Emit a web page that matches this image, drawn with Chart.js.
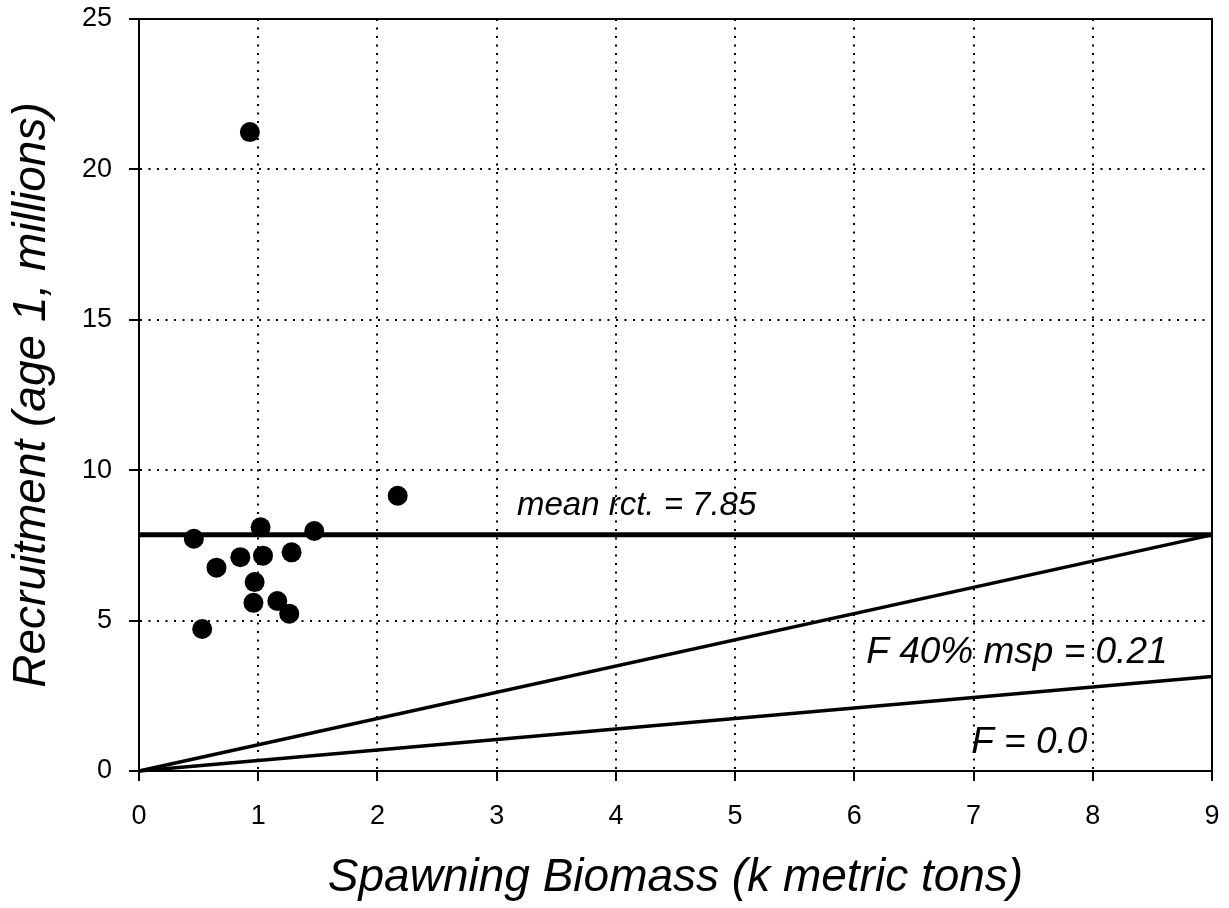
<!DOCTYPE html>
<html>
<head>
<meta charset="utf-8">
<script src="https://cdn.jsdelivr.net/npm/chart.js@4/dist/chart.umd.min.js"></script>
<style>
  body { margin: 0; background: #fff; }
  #wrap { width: 1229px; height: 908px; }
</style>
</head>
<body>
<div id="wrap"><canvas id="srChart" width="1229" height="908"></canvas></div>
<script>
// spawning biomass (k metric tons) vs recruitment (age 1, millions)
const biomass     = [0.46, 1.02, 1.47, 2.17, 0.85, 1.04, 1.28, 0.65, 0.97, 0.96, 1.16, 1.26, 0.53, 0.93];
const recruitment = [7.72, 8.10, 7.98, 9.15, 7.11, 7.16, 7.27, 6.76, 6.28, 5.59, 5.65, 5.23, 4.72, 21.24];

const meanRct = 7.85;
const xMax = 9;
const f40End = 7.85;   // replacement line at F 40% msp
const f0End = 3.14;    // replacement line at F = 0.0

const xTicks = [0, 1, 2, 3, 4, 5, 6, 7, 8, 9];
const yTicks = [0, 5, 10, 15, 20, 25];

const notes = [
    { text: 'mean rct. = 7.85', x: 3.17, y: 8.51, size: 33 },
    { text: 'F 40% msp = 0.21', x: 6.10, y: 3.60, size: 37 },
    { text: 'F = 0.0', x: 6.98, y: 0.60, size: 37 }
];

document.addEventListener('DOMContentLoaded', function() {
    const FONT = "'Liberation Sans', Arial, sans-serif";

    const puntos = biomass.map((b, i) => ({ x: b, y: recruitment[i] }));

    const linea = (y0, y1, ancho) => ({
        type: 'line',
        data: [{ x: 0, y: y0 }, { x: xMax, y: y1 }],
        borderColor: '#000',
        borderWidth: ancho,
        pointRadius: 0,
        tension: 0,
        clip: false
    });

    const marco = {
        id: 'marco',
        afterDraw(chart) {
            const { ctx, chartArea: a } = chart;
            ctx.save();
            ctx.strokeStyle = '#000';
            ctx.lineWidth = 2;
            ctx.strokeRect(a.left, a.top, a.right - a.left, a.bottom - a.top);
            ctx.restore();
        }
    };

    const notas = {
        id: 'notas',
        afterDatasetsDraw(chart) {
            const { ctx, scales } = chart;
            ctx.save();
            ctx.fillStyle = '#000';
            ctx.textAlign = 'left';
            ctx.textBaseline = 'alphabetic';
            notes.forEach(n => {
                ctx.font = `italic ${n.size}px ${FONT}`;
                ctx.fillText(n.text, scales.x.getPixelForValue(n.x), scales.y.getPixelForValue(n.y));
            });
            ctx.restore();
        }
    };

    const ejeComun = {
        grid: {
            color: '#000',
            lineWidth: 2,
            tickLength: 10,
            tickColor: '#000',
            tickWidth: 2
        },
        border: { display: true, color: '#000', width: 2, dash: [2, 6.5] },
        ticks: { color: '#000', font: { family: FONT, size: 27 } }
    };

    const ctx = document.getElementById('srChart').getContext('2d');
    new Chart(ctx, {
        type: 'scatter',
        data: {
            datasets: [
                linea(meanRct, meanRct, 5),
                linea(0, f40End, 3.5),
                linea(0, f0End, 3.5),
                {
                    type: 'scatter',
                    data: puntos,
                    backgroundColor: '#000',
                    borderWidth: 0,
                    pointRadius: 10,
                    pointHoverRadius: 10
                }
            ]
        },
        options: {
            responsive: false,
            animation: false,
            layout: { padding: { left: 0, right: 17, top: 19, bottom: 0 } },
            plugins: { legend: { display: false }, tooltip: { enabled: false } },
            scales: {
                x: {
                    ...ejeComun,
                    type: 'linear',
                    min: 0,
                    max: xMax,
                    afterBuildTicks: (s) => { s.ticks = xTicks.map(v => ({ value: v })); },
                    afterFit: (s) => { s.height = 137; s.paddingLeft = 0; s.paddingRight = 0; },
                    ticks: { ...ejeComun.ticks, padding: 19, maxRotation: 0 },
                    title: {
                        display: true,
                        text: 'Spawning Biomass (k metric tons)',
                        color: '#000',
                        font: { family: FONT, size: 46, style: 'italic' },
                        padding: { top: 0, bottom: 2 }
                    }
                },
                y: {
                    ...ejeComun,
                    type: 'linear',
                    min: 0,
                    max: 25,
                    afterBuildTicks: (s) => { s.ticks = yTicks.map(v => ({ value: v })); },
                    afterFit: (s) => { s.width = 139; s.paddingTop = 0; s.paddingBottom = 0; },
                    ticks: { ...ejeComun.ticks, padding: 17 },
                    title: {
                        display: true,
                        text: 'Recruitment (age 1, millions)',
                        color: '#000',
                        font: { family: FONT, size: 46, style: 'italic' },
                        padding: { top: 5, bottom: 0 }
                    }
                }
            }
        },
        plugins: [notas, marco]
    });
});
</script>
</body>
</html>
